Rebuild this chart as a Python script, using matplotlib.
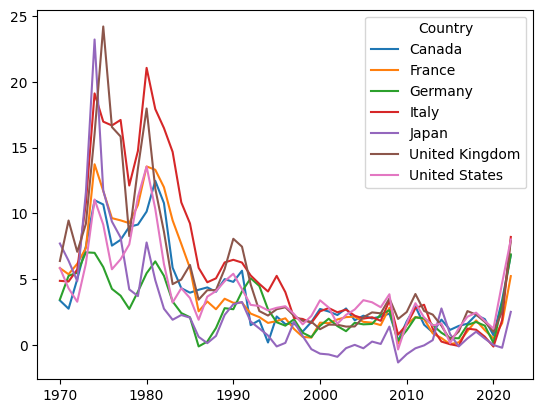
import matplotlib
matplotlib.use("Agg")
import matplotlib.pyplot as plt
import numpy as np

years = list(range(1970, 2023))

canada = [3.37, 2.74, 4.98, 7.49, 10.99, 10.67, 7.54, 7.98, 8.97, 9.14, 10.13, 12.47, 10.77, 5.86, 4.30, 3.96, 4.18, 4.36, 4.03, 4.99, 4.78, 5.63, 1.49, 1.87, 0.17, 2.15, 1.57, 1.62, 1.00, 1.73, 2.72, 2.53, 2.26, 2.76, 1.86, 2.21, 2.00, 2.14, 2.37, 0.30, 1.78, 2.91, 1.52, 0.94, 1.91, 1.13, 1.43, 1.60, 2.27, 1.95, 0.72, 3.40, 6.80]
france = [5.83, 5.36, 6.16, 7.36, 13.73, 11.70, 9.63, 9.46, 9.25, 10.63, 13.56, 13.31, 11.98, 9.46, 7.67, 5.83, 2.54, 3.29, 2.70, 3.50, 3.19, 3.21, 2.37, 2.10, 1.66, 1.80, 2.01, 1.20, 0.60, 0.54, 1.68, 1.64, 1.92, 2.10, 2.14, 1.74, 1.68, 1.49, 2.81, 0.09, 1.53, 2.11, 1.95, 0.86, 0.51, 0.04, 0.18, 1.03, 1.85, 1.11, 0.48, 1.64, 5.22]
germany = [3.44, 5.24, 5.48, 7.03, 6.99, 5.91, 4.25, 3.73, 2.72, 4.04, 5.44, 6.34, 5.24, 3.29, 2.41, 2.09, -0.13, 0.24, 1.27, 2.78, 2.70, 4.05, 5.06, 4.47, 2.69, 1.71, 1.45, 1.94, 0.91, 0.58, 1.44, 1.98, 1.42, 1.03, 1.67, 1.55, 1.58, 2.30, 2.63, 0.31, 1.10, 2.08, 2.01, 1.50, 0.91, 0.51, 0.49, 1.51, 1.73, 1.45, 0.14, 3.07, 6.87]
italy = [4.86, 4.81, 5.72, 10.80, 19.12, 16.97, 16.68, 17.10, 12.11, 14.75, 21.06, 17.93, 16.48, 14.67, 10.83, 9.23, 5.85, 4.75, 5.05, 6.26, 6.46, 6.25, 5.27, 4.63, 4.05, 5.24, 4.00, 2.04, 1.96, 1.66, 2.54, 2.79, 2.47, 2.67, 2.21, 1.99, 2.09, 1.82, 3.35, 0.77, 1.53, 2.78, 3.04, 1.22, 0.24, 0.04, -0.09, 1.23, 1.14, 0.61, -0.14, 1.87, 8.20]
japan = [7.70, 6.39, 4.84, 11.61, 23.22, 11.73, 9.37, 8.16, 4.21, 3.70, 7.78, 4.91, 2.74, 1.90, 2.26, 2.06, 0.60, 0.12, 0.67, 2.27, 3.08, 3.25, 1.76, 1.24, 0.70, -0.13, 0.14, 1.75, 0.66, -0.34, -0.68, -0.74, -0.92, -0.26, -0.01, -0.27, 0.24, 0.06, 1.38, -1.35, -0.72, -0.27, -0.05, 0.35, 2.76, 0.80, -0.13, 0.48, 0.99, 0.47, -0.02, -0.23, 2.50]
uk = [6.37, 9.45, 7.07, 9.20, 16.04, 24.21, 16.56, 15.84, 8.26, 13.42, 17.97, 11.88, 8.60, 4.61, 4.96, 6.07, 3.43, 4.15, 4.16, 5.76, 8.06, 7.46, 4.59, 2.56, 2.22, 2.70, 2.85, 2.20, 1.82, 1.75, 1.18, 1.53, 1.52, 1.38, 1.39, 2.09, 2.46, 2.39, 3.52, 1.96, 2.49, 3.86, 2.57, 2.29, 1.45, 0.37, 1.01, 2.56, 2.29, 1.74, 0.99, 2.52, 7.92]
usa = [5.84, 4.29, 3.27, 6.18, 11.05, 9.14, 5.74, 6.50, 7.63, 11.25, 13.55, 10.33, 6.13, 3.21, 4.30, 3.55, 1.90, 3.66, 4.08, 4.83, 5.40, 4.23, 3.03, 2.95, 2.61, 2.81, 2.93, 2.34, 1.55, 2.19, 3.38, 2.83, 1.59, 2.27, 2.68, 3.39, 3.23, 2.85, 3.84, -0.36, 1.64, 3.16, 2.07, 1.46, 1.62, 0.12, 1.26, 2.13, 2.44, 1.81, 1.23, 4.70, 8.00]

countries = ["Canada", "France", "Germany", "Italy", "Japan", "United Kingdom", "United States"]
series = [canada, france, germany, italy, japan, uk, usa]

fig, ax = plt.subplots(figsize=(6.4, 4.8), dpi=100)
for name, vals in zip(countries, series):
    ax.plot(years, vals, label=name)
ax.legend(title="Country", loc="upper right")
fig.savefig("out.png", dpi=100, bbox_inches="tight")
